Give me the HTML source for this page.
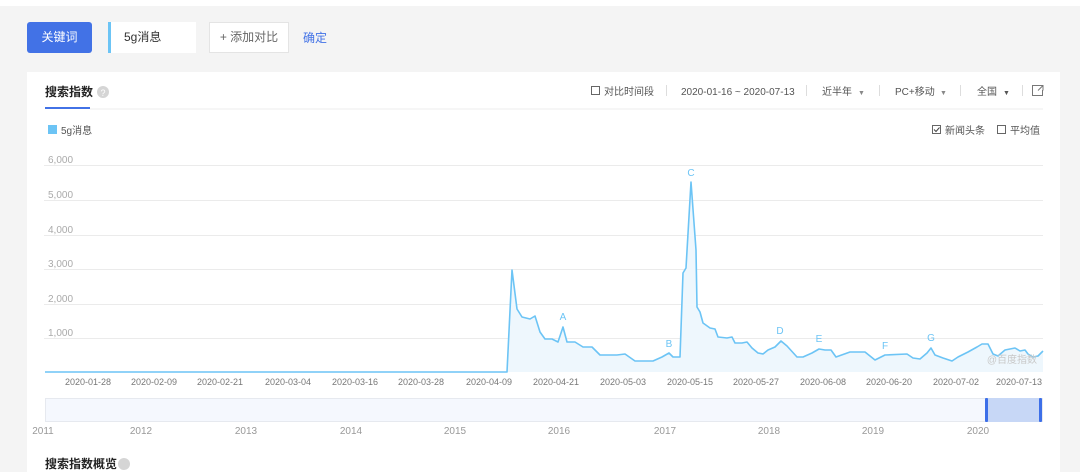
<!DOCTYPE html>
<html><head><meta charset="utf-8"><style>
body{margin:0;width:1080px;height:470px;overflow:hidden;background:#f4f4f4;font-family:"Liberation Sans","Noto Sans CJK SC",sans-serif;position:relative}
.a{position:absolute;white-space:nowrap}
</style></head><body>
<div class="a" style="left:0;top:0;width:1080px;height:6px;background:#fff"></div>
<div class="a" style="left:27px;top:22px;width:65px;height:31px;background:#4272e6;border-radius:3px;color:#fff;font-size:12px;line-height:31px;text-align:center">关键词</div>
<div class="a" style="left:108px;top:22px;width:85px;height:31px;background:#fff;border-left:3px solid #6cc4f5;font-size:12px;line-height:31px;color:#333;text-indent:13px">5g消息</div>
<div class="a" style="left:209px;top:22px;width:80px;height:31px;background:#fff;border:1px solid #e4e4e4;box-sizing:border-box;font-size:12px;line-height:29px;color:#666;text-align:center">+ 添加对比</div>
<div class="a" style="left:303px;top:29px;font-size:12px;color:#4272e6">确定</div>
<div class="a" style="left:27px;top:72px;width:1033px;height:400px;background:#fff"></div>
<svg class="a" style="left:0;top:0" width="1080" height="470" font-family="Liberation Sans, Noto Sans CJK SC, sans-serif">
<text x="45" y="96" font-size="12" fill="#222" font-weight="bold">搜索指数</text>
<circle cx="103" cy="92" r="6" fill="#d5d5d5"/><text x="103" y="96" font-size="9" fill="#fff" text-anchor="middle">?</text>
<rect x="45" y="107" width="45" height="2" fill="#4272e6"/>
<rect x="90" y="108.5" width="953" height="1" fill="#ececec"/>
<g font-size="10" fill="#555">
<rect x="591.5" y="86.5" width="8" height="8" fill="none" stroke="#666"/>
<text x="604" y="95">对比时间段</text>
<rect x="666" y="85" width="1" height="11" fill="#ddd"/>
<text x="681" y="95">2020-01-16 ~ 2020-07-13</text>
<rect x="806" y="85" width="1" height="11" fill="#ddd"/>
<text x="822" y="95">近半年</text><text x="858" y="95" font-size="7" fill="#888">▼</text>
<rect x="879" y="85" width="1" height="11" fill="#ddd"/>
<text x="895" y="95">PC+移动</text><text x="940" y="95" font-size="7" fill="#888">▼</text>
<rect x="960" y="85" width="1" height="11" fill="#ddd"/>
<text x="977" y="95">全国</text><text x="1003" y="95" font-size="7" fill="#555">▼</text>
<rect x="1022" y="85" width="1" height="11" fill="#ddd"/>
<path d="M1038 85.5h-5.5v10h10v-5.5 M1038 85.5h5v5 M1043 85.5l-5 5" fill="none" stroke="#777" stroke-width="1"/>
<rect x="932.5" y="125.5" width="8" height="8" fill="none" stroke="#666"/>
<path d="M934 129.5l2 2 3.5-4" fill="none" stroke="#444"/>
<text x="945" y="134">新闻头条</text>
<rect x="997.5" y="125.5" width="8" height="8" fill="none" stroke="#666"/>
<text x="1010" y="134">平均值</text>
</g>
<rect x="48" y="125" width="9" height="9" fill="#6cc4f5"/>
<text x="61" y="134" font-size="10" fill="#555">5g消息</text>
<g fill="#ebebeb">
<rect x="44" y="165" width="999" height="1"/><rect x="44" y="200" width="999" height="1"/><rect x="44" y="235" width="999" height="1"/><rect x="44" y="269" width="999" height="1"/><rect x="44" y="304" width="999" height="1"/><rect x="44" y="338" width="999" height="1"/>
</g>
<g font-size="10" fill="#aaa">
<text x="48" y="163">6,000</text><text x="48" y="198">5,000</text><text x="48" y="233">4,000</text><text x="48" y="267">3,000</text><text x="48" y="302">2,000</text><text x="48" y="336">1,000</text>
</g>
<path d="M45 372 L507 372 L512 270 L517 309 L522 317 L530 319 L535 316 L540 332 L545 339 L552 339 L558 342 L563 327 L567 342 L575 342 L583 347 L592 347 L600 355 L617 355 L625 354 L635 361 L653 361 L662 357 L669 353 L673 357 L680 357 L683 273 L686 268 L691 182 L696 250 L697 307 L700 312 L703 323 L710 328 L715 329 L718 337 L727 338 L732 337 L735 343 L742 343 L747 342 L752 348 L758 353 L763 354 L768 350 L775 347 L781 341 L787 346 L797 357 L803 357 L812 353 L819 349 L825 350 L831 350 L836 357 L850 352 L865 352 L875 360 L885 355 L907 354 L913 358 L920 359 L927 353 L931 348 L935 355 L943 358 L952 361 L958 357 L968 352 L977 347 L982 344 L988 344 L993 354 L998 356 L1005 350 L1015 348 L1020 351 L1025 350 L1028 354 L1033 357 L1038 356 L1043 351 L1043 372 Z" fill="#eef7fd" stroke="none"/>
<path d="M45 372 L507 372 L512 270 L517 309 L522 317 L530 319 L535 316 L540 332 L545 339 L552 339 L558 342 L563 327 L567 342 L575 342 L583 347 L592 347 L600 355 L617 355 L625 354 L635 361 L653 361 L662 357 L669 353 L673 357 L680 357 L683 273 L686 268 L691 182 L696 250 L697 307 L700 312 L703 323 L710 328 L715 329 L718 337 L727 338 L732 337 L735 343 L742 343 L747 342 L752 348 L758 353 L763 354 L768 350 L775 347 L781 341 L787 346 L797 357 L803 357 L812 353 L819 349 L825 350 L831 350 L836 357 L850 352 L865 352 L875 360 L885 355 L907 354 L913 358 L920 359 L927 353 L931 348 L935 355 L943 358 L952 361 L958 357 L968 352 L977 347 L982 344 L988 344 L993 354 L998 356 L1005 350 L1015 348 L1020 351 L1025 350 L1028 354 L1033 357 L1038 356 L1043 351" fill="none" stroke="#6cc4f5" stroke-width="1.6" stroke-linejoin="round"/>
<g font-size="10" fill="#6cc4f5" text-anchor="middle">
<text x="563" y="320">A</text><text x="669" y="347">B</text><text x="691" y="176">C</text><text x="780" y="334">D</text><text x="819" y="342">E</text><text x="885" y="349">F</text><text x="931" y="341">G</text>
</g>
<text x="1037" y="363" font-size="10" fill="#c8c8c8" text-anchor="end">@百度指数</text>
<g font-size="9" fill="#777" text-anchor="middle">
<text x="88" y="385">2020-01-28</text><text x="154" y="385">2020-02-09</text><text x="220" y="385">2020-02-21</text><text x="288" y="385">2020-03-04</text><text x="355" y="385">2020-03-16</text><text x="421" y="385">2020-03-28</text><text x="489" y="385">2020-04-09</text><text x="556" y="385">2020-04-21</text><text x="623" y="385">2020-05-03</text><text x="690" y="385">2020-05-15</text><text x="756" y="385">2020-05-27</text><text x="823" y="385">2020-06-08</text><text x="889" y="385">2020-06-20</text><text x="956" y="385">2020-07-02</text><text x="1019" y="385">2020-07-13</text>
</g>
<rect x="45.5" y="398.5" width="997" height="23" fill="#f5f8fe" stroke="#e6e9ef"/>
<rect x="986" y="398" width="55" height="24" fill="#c7d7f6"/>
<rect x="985" y="398" width="3" height="24" rx="1" fill="#3d6fe8"/>
<rect x="1039" y="398" width="3" height="24" rx="1" fill="#3d6fe8"/>
<g font-size="10" fill="#999" text-anchor="middle">
<text x="43" y="434">2011</text><text x="141" y="434">2012</text><text x="246" y="434">2013</text><text x="351" y="434">2014</text><text x="455" y="434">2015</text><text x="559" y="434">2016</text><text x="665" y="434">2017</text><text x="769" y="434">2018</text><text x="873" y="434">2019</text><text x="978" y="434">2020</text>
</g>
<text x="45" y="468" font-size="12" fill="#222" font-weight="bold">搜索指数概览</text>
<circle cx="124" cy="464" r="6" fill="#d5d5d5"/>
</svg>
</body></html>
